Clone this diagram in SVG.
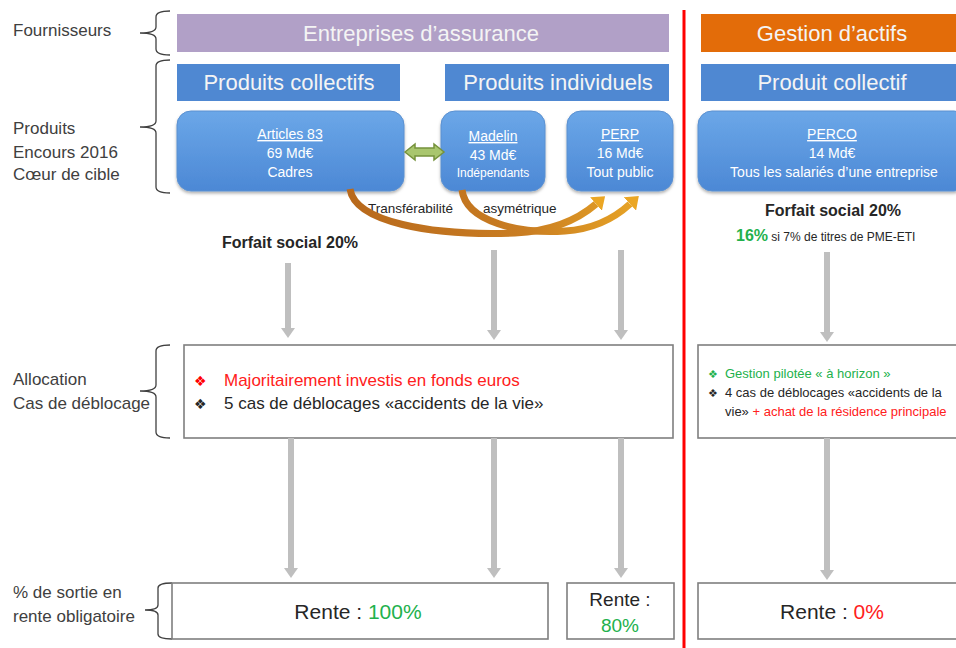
<svg xmlns="http://www.w3.org/2000/svg" width="956" height="648" viewBox="0 0 956 648">
<style>
  text{font-family:"Liberation Sans",Arial,sans-serif}
  .lbl{font-size:17px;fill:#404040}
  .hdr{font-size:22px;fill:#f4f4f4;text-anchor:middle}
  .bt{font-size:14px;fill:#ffffff;text-anchor:middle}
  .brace{fill:none;stroke:#404040;stroke-width:1.3}
  .card{fill:url(#bg);stroke:#5a90d0;stroke-width:1;filter:url(#sh)}
  .bar{fill:#4f88d2}
  .box{fill:#ffffff;stroke:#7f7f7f;stroke-width:1.6}
  .ga{stroke:#bfbfbf;stroke-width:6;marker-end:url(#gh)}
  .oa{fill:none;stroke:url(#og);stroke-width:7;marker-end:url(#oh)}
</style>
<defs>
  <linearGradient id="bg" x1="0" y1="0" x2="0" y2="1">
    <stop offset="0" stop-color="#6ba7e8"/>
    <stop offset="1" stop-color="#4c88d5"/>
  </linearGradient>
  <linearGradient id="og" gradientUnits="userSpaceOnUse" x1="350" y1="0" x2="640" y2="0">
    <stop offset="0" stop-color="#b8691c"/>
    <stop offset="0.6" stop-color="#c97d22"/>
    <stop offset="1" stop-color="#e8a526"/>
  </linearGradient>
  <filter id="sh" x="-10%" y="-10%" width="120%" height="130%">
    <feDropShadow dx="0" dy="2" stdDeviation="1.5" flood-color="#000" flood-opacity="0.3"/>
  </filter>
  <marker id="gh" viewBox="0 0 10 14" refX="0" refY="7" markerWidth="10" markerHeight="14" markerUnits="userSpaceOnUse" orient="auto">
    <path d="M0,0 L10,7 L0,14 z" fill="#bfbfbf"/>
  </marker>
  <marker id="oh" viewBox="0 0 12 18" refX="0" refY="9" markerWidth="12" markerHeight="18" markerUnits="userSpaceOnUse" orient="auto">
    <path d="M0,0 L12,9 L0,18 z" fill="#eba623"/>
  </marker>
</defs>

<rect width="956" height="648" fill="#ffffff"/>

<!-- Left labels and braces -->
<g id="labels">
  <text class="lbl" x="13" y="36">Fournisseurs</text>
  <text class="lbl" x="13" y="134">Produits</text>
  <text class="lbl" x="13" y="158">Encours 2016</text>
  <text class="lbl" x="13" y="180">Cœur de cible</text>
  <text class="lbl" x="13" y="385">Allocation</text>
  <text class="lbl" x="13" y="409">Cas de déblocage</text>
  <text class="lbl" x="13" y="598">% de sortie en</text>
  <text class="lbl" x="13" y="622">rente obligatoire</text>
  <path class="brace" d="M170,11 Q156,11 156,17 L156,27 Q156,33 140,33 Q156,33 156,39 L156,49 Q156,55 170,55"/>
  <path class="brace" d="M170,60 Q156,60 156,66 L156,121 Q156,127 140,127 Q156,127 156,133 L156,187 Q156,193 170,193"/>
  <path class="brace" d="M170,345 Q156,345 156,351 L156,385 Q156,391 140,391 Q156,391 156,397 L156,432 Q156,438 170,438"/>
  <path class="brace" d="M172,583 Q158,583 158,588 L158,605 Q158,610 145,610 Q158,610 158,615 L158,634 Q158,639 172,639"/>
</g>

<!-- Separator -->
<line x1="684" y1="10" x2="684" y2="648" stroke="#ff0000" stroke-width="3"/>

<!-- Suppliers -->
<g id="assurance">
  <rect x="177" y="14" width="492" height="38" fill="#b1a0c7"/>
  <text class="hdr" x="421" y="41">Entreprises d’assurance</text>
</g>
<g id="gestion">
  <rect x="701" y="14" width="260" height="38" fill="#e36c09"/>
  <text class="hdr" x="832" y="41">Gestion d’actifs</text>
</g>

<!-- Product category bars -->
<g id="produits-collectifs">
  <rect class="bar" x="177" y="64" width="223" height="37"/>
  <text class="hdr" x="289" y="90">Produits collectifs</text>
</g>
<g id="produits-individuels">
  <rect class="bar" x="445" y="64" width="224" height="37"/>
  <text class="hdr" x="558" y="90">Produits individuels</text>
</g>
<g id="produit-collectif">
  <rect class="bar" x="701" y="64" width="260" height="37"/>
  <text class="hdr" x="832" y="90">Produit collectif</text>
</g>

<!-- Product cards -->
<g id="articles83">
  <rect class="card" x="177" y="111" width="227" height="80" rx="14"/>
  <text class="bt" x="290" y="139" text-decoration="underline">Articles 83</text>
  <text class="bt" x="290" y="158">69 Md€</text>
  <text class="bt" x="290" y="177">Cadres</text>
</g>
<g id="madelin">
  <rect class="card" x="441" y="111" width="104" height="80" rx="14"/>
  <text class="bt" x="493" y="141" text-decoration="underline">Madelin</text>
  <text class="bt" x="493" y="160">43 Md€</text>
  <text class="bt" x="493" y="177" style="font-size:12px">Indépendants</text>
</g>
<g id="perp">
  <rect class="card" x="567" y="111" width="106" height="80" rx="14"/>
  <text class="bt" x="620" y="139" text-decoration="underline">PERP</text>
  <text class="bt" x="620" y="158">16 Md€</text>
  <text class="bt" x="620" y="177">Tout public</text>
</g>
<g id="perco">
  <rect class="card" x="698" y="111" width="270" height="80" rx="14"/>
  <text class="bt" x="832" y="139" text-decoration="underline">PERCO</text>
  <text class="bt" x="832" y="158">14 Md€</text>
  <text class="bt" x="834" y="177">Tous les salariés d’une entreprise</text>
</g>

<!-- Transferability & fiscal notes -->
<g id="notes">
  <text x="368" y="213" style="font-size:13.5px;fill:#262626">Transférabilité</text>
  <text x="483" y="213" style="font-size:13.5px;fill:#262626">asymétrique</text>
  <text x="222" y="248" style="font-size:16px;font-weight:bold;fill:#262626">Forfait social 20%</text>
  <text x="833" y="216" text-anchor="middle" style="font-size:16px;font-weight:bold;fill:#262626">Forfait social 20%</text>
  <text x="736" y="241" style="font-size:12px;fill:#262626"><tspan style="font-size:16px;font-weight:bold;fill:#22b14c">16%</tspan> si 7% de titres de PME-ETI</text>
</g>

<!-- Allocation boxes -->
<g id="allocation-assurance">
  <rect class="box" x="184" y="345" width="489" height="93"/>
  <text x="194" y="386" style="font-size:14px;fill:#ff0000;font-family:'DejaVu Sans',sans-serif">❖</text>
  <text x="224" y="386" style="font-size:17px;fill:#ff2020">Majoritairement investis en fonds euros</text>
  <text x="194" y="409" style="font-size:14px;fill:#262626;font-family:'DejaVu Sans',sans-serif">❖</text>
  <text x="224" y="409" style="font-size:17px;fill:#262626">5 cas de déblocages «accidents de la vie»</text>
</g>
<g id="allocation-gestion">
  <rect class="box" x="698" y="345" width="270" height="93"/>
  <text x="708" y="378" style="font-size:11px;fill:#22b14c;font-family:'DejaVu Sans',sans-serif">❖</text>
  <text x="725" y="378" style="font-size:13px;fill:#22b14c">Gestion pilotée « à horizon »</text>
  <text x="708" y="397" style="font-size:11px;fill:#262626;font-family:'DejaVu Sans',sans-serif">❖</text>
  <text x="725" y="397" style="font-size:13px;fill:#262626">4 cas de déblocages «accidents de la</text>
  <text x="725" y="416" style="font-size:13px;fill:#262626">vie» <tspan fill="#ff2020">+ achat de la résidence principale</tspan></text>
</g>

<!-- Rente boxes -->
<g id="rente-collectif">
  <rect class="box" x="172" y="583" width="376" height="56"/>
  <text x="358" y="619" text-anchor="middle" style="font-size:21px;fill:#262626">Rente : <tspan fill="#22b14c">100%</tspan></text>
</g>
<g id="rente-perp">
  <rect class="box" x="567" y="583" width="107" height="56"/>
  <text x="620" y="606" text-anchor="middle" style="font-size:19px;fill:#262626">Rente :</text>
  <text x="620" y="632" text-anchor="middle" style="font-size:19px;fill:#22b14c">80%</text>
</g>
<g id="rente-perco">
  <rect class="box" x="698" y="583" width="270" height="56"/>
  <text x="832" y="619" text-anchor="middle" style="font-size:21px;fill:#262626">Rente : <tspan fill="#ff2020">0%</tspan></text>
</g>

<!-- Connectors -->
<g id="connectors">
  <line class="ga" x1="288" y1="263" x2="288" y2="328"/>
  <line class="ga" x1="494" y1="250" x2="494" y2="330"/>
  <line class="ga" x1="621" y1="250" x2="621" y2="330"/>
  <line class="ga" x1="827" y1="252" x2="827" y2="332"/>
  <line class="ga" x1="291" y1="438" x2="291" y2="568"/>
  <line class="ga" x1="494" y1="438" x2="494" y2="568"/>
  <line class="ga" x1="621" y1="438" x2="621" y2="568"/>
  <line class="ga" x1="827" y1="438" x2="827" y2="570"/>
  <polygon points="405,152 415,144 415,148 434,148 434,144 444,152 434,160 434,156 415,156 415,160" fill="#a9c66e" stroke="#76923c" stroke-width="1.5"/>
  <path class="oa" d="M350,189 C355,222 430,236 515,233 C558,231 582,216 596,204"/>
  <path class="oa" d="M462,190 C466,222 520,234 565,231 C598,229 618,215 630,204"/>
</g>
</svg>
